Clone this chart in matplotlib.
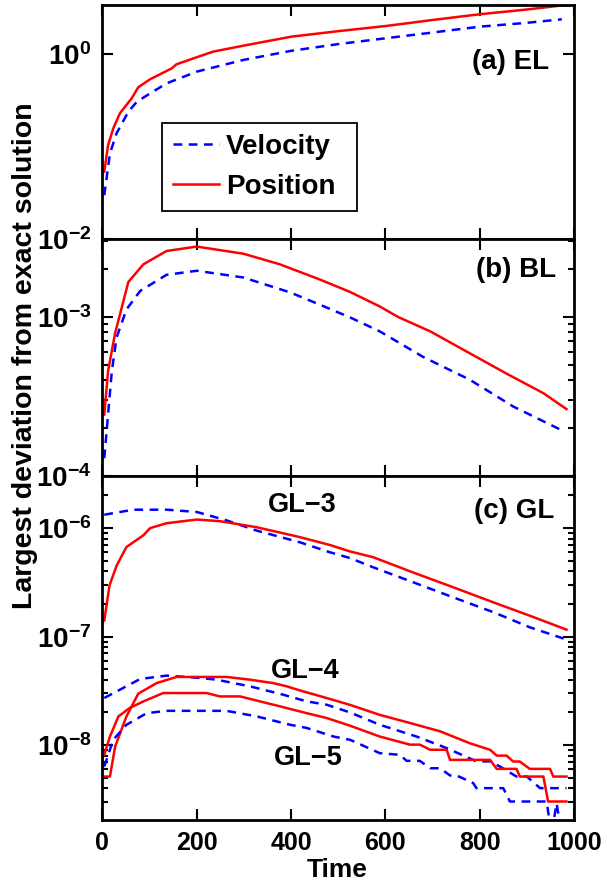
import matplotlib
matplotlib.use('Agg')
import matplotlib.pyplot as plt
from matplotlib.ticker import LogLocator, NullLocator, NullFormatter

plt.rcParams['font.family'] = ['Liberation Sans', 'DejaVu Sans']
plt.rcParams['font.weight'] = 'bold'
plt.rcParams['mathtext.fontset'] = 'custom'
plt.rcParams['mathtext.rm'] = 'Liberation Sans:bold'
plt.rcParams['mathtext.bf'] = 'Liberation Sans:bold'
plt.rcParams['mathtext.default'] = 'bf'

# (a) EL
t_el_pos = [4, 12, 23, 37, 62, 76, 101, 147, 157, 200, 235, 299, 400, 500, 600, 700, 800, 900, 984]
el_pos = [0.054, 0.104, 0.158, 0.23, 0.334, 0.44, 0.537, 0.705, 0.78, 0.93, 1.07, 1.24, 1.55,
          1.78, 2.02, 2.35, 2.71, 3.05, 3.42]
t_el_vel = [4, 16, 30, 55, 73, 101, 136, 200, 299, 400, 500, 600, 700, 800, 900, 974]
el_vel = [0.030, 0.085, 0.14, 0.24, 0.307, 0.378, 0.485, 0.65, 0.87, 1.09, 1.29, 1.49, 1.72,
          1.99, 2.19, 2.39]

# (b) BL
t_bl_pos = [4, 12, 27, 55, 87, 136, 200, 299, 376, 461, 525, 588, 627, 695, 779, 857, 935, 984]
bl_pos = [2.44e-4, 4.56e-4, 7.9e-4, 1.65e-3, 2.13e-3, 2.58e-3, 2.75e-3, 2.48e-3, 2.13e-3,
          1.71e-3, 1.43e-3, 1.16e-3, 9.96e-4, 8.1e-4, 5.9e-4, 4.4e-4, 3.32e-4, 2.64e-4]
t_bl_vel = [4, 12, 20, 30, 51, 80, 136, 200, 299, 398, 461, 525, 588, 680, 779, 871, 970]
bl_vel = [1.30e-4, 2.44e-4, 4.56e-4, 7.4e-4, 1.11e-3, 1.45e-3, 1.83e-3, 1.94e-3, 1.76e-3,
          1.42e-3, 1.19e-3, 9.9e-4, 8.1e-4, 5.6e-4, 4.03e-4, 2.74e-4, 1.97e-4]

# (c) GL-3
t_gl3_pos = [4, 15, 30, 51, 87, 101, 136, 200, 249, 327, 419, 482, 525, 574, 659, 744, 829, 906, 984]
gl3_pos = [1.41e-7, 2.96e-7, 4.5e-7, 6.7e-7, 8.6e-7, 1.0e-6, 1.11e-6, 1.2e-6, 1.16e-6, 1.02e-6,
           8.26e-7, 7.0e-7, 6.1e-7, 5.4e-7, 3.9e-7, 2.85e-7, 2.07e-7, 1.56e-7, 1.16e-7]
t_gl3_vel = [4, 66, 136, 200, 263, 327, 419, 482, 525, 574, 659, 744, 829, 906, 984]
gl3_vel = [1.33e-6, 1.48e-6, 1.48e-6, 1.41e-6, 1.18e-6, 9.5e-7, 7.4e-7, 6.0e-7, 5.3e-7, 4.36e-7,
           3.17e-7, 2.3e-7, 1.68e-7, 1.22e-7, 9.4e-8]

# (c) GL-4
t_gl4_pos = [4, 16, 27, 51, 76, 115, 157, 263, 313, 362, 391, 419, 475, 525, 588, 652, 716, 779,
             822, 836, 857, 871, 885, 906, 949, 956, 984]
gl4_pos = [5.13e-9, 5.13e-9, 9.7e-9, 1.84e-8, 2.98e-8, 3.73e-8, 4.25e-8, 4.25e-8, 4.01e-8, 3.73e-8,
           3.48e-8, 3.19e-8, 2.72e-8, 2.35e-8, 1.9e-8, 1.6e-8, 1.34e-8, 1.04e-8, 9.05e-9, 8.0e-9,
           8.0e-9, 7.06e-9, 7.06e-9, 6.04e-9, 6.04e-9, 5.13e-9, 5.13e-9]
t_gl4_vel = [4, 37, 80, 136, 207, 242, 313, 384, 433, 475, 525, 588, 666, 730, 793, 822, 843, 878,
             900, 928, 984]
gl4_vel = [2.72e-8, 3.24e-8, 4.07e-8, 4.37e-8, 4.16e-8, 4.01e-8, 3.48e-8, 2.91e-8, 2.53e-8, 2.36e-8,
           2.0e-8, 1.54e-8, 1.2e-8, 9.38e-9, 7.08e-9, 7.08e-9, 6.34e-9, 5.13e-9, 5.13e-9, 4.01e-9,
           4.01e-9]

# (c) GL-5
t_gl5_pos = [4, 16, 34, 58, 87, 129, 221, 249, 292, 334, 376, 433, 475, 525, 588, 652, 673, 695,
             730, 737, 822, 836, 878, 885, 935, 945, 984]
gl5_pos = [8.13e-9, 1.2e-8, 1.84e-8, 2.2e-8, 2.53e-8, 3.02e-8, 3.02e-8, 2.81e-8, 2.81e-8, 2.53e-8,
           2.28e-8, 1.97e-8, 1.78e-8, 1.51e-8, 1.2e-8, 1.01e-8, 1.01e-8, 9.06e-9, 9.06e-9, 7.31e-9,
           7.31e-9, 6.04e-9, 6.04e-9, 5.13e-9, 5.13e-9, 3.02e-9, 3.02e-9]
t_gl5_vel = [4, 23, 51, 94, 136, 263, 327, 398, 433, 490, 525, 588, 631, 645, 673, 695, 716, 737,
             751, 786, 793, 850, 864, 942, 952, 963, 974, 984]
gl5_vel = [6.34e-9, 1.12e-8, 1.54e-8, 1.97e-8, 2.07e-8, 2.07e-8, 1.84e-8, 1.54e-8, 1.44e-8, 1.2e-8,
           1.12e-8, 8.43e-9, 8.13e-9, 7.16e-9, 7.16e-9, 6.12e-9, 6.12e-9, 5.25e-9, 5.25e-9, 4.47e-9,
           4.01e-9, 4.01e-9, 3.02e-9, 3.02e-9, 1.5e-9, 2.9e-9, 1.5e-9, 1.5e-9]

lw = 1.8
dash = (3.5, 2.6)
vel_style = dict(color='#0000ff', ls='--', lw=lw, dashes=dash)
pos_style = dict(color='#ff0000', ls='-', lw=lw)

fig = plt.figure(figsize=(6.07, 8.82), dpi=100)
gs = fig.add_gridspec(3, 1, height_ratios=[234.3, 236.6, 343], hspace=0,
                      left=0.1687, right=0.9457, top=0.9947, bottom=0.0703)
ax1 = fig.add_subplot(gs[0])
ax2 = fig.add_subplot(gs[1])
ax3 = fig.add_subplot(gs[2])

for ax in (ax1, ax2, ax3):
    ax.set_yscale('log')
    ax.set_xlim(0, 1000)
    ax.set_xticks(range(0, 1001, 200))
    ax.tick_params(which='both', direction='in', top=True, right=True, width=1.5)
    ax.tick_params(which='major', length=8, labelsize=20, pad=8)
    ax.tick_params(which='minor', length=4)
    ax.tick_params(axis='x', labelsize=18)
    for s in ax.spines.values():
        s.set_linewidth(2)

# panel (a)
lv, = ax1.plot(t_el_vel, el_vel, label='Velocity', **vel_style)
lp, = ax1.plot(t_el_pos, el_pos, label='Position', **pos_style)
ax1.set_ylim(1e-2, 3.44)
ax1.set_yticks([1e-2, 1e0])
ax1.yaxis.set_minor_locator(NullLocator())
ax1.tick_params(axis='x', labelbottom=False)
ax1.text(947, 0.826, '(a) EL', ha='right', va='center', fontsize=20, fontweight='bold')
leg = ax1.legend(handles=[lv, lp], loc='upper left', bbox_to_anchor=(0.126, 0.124, 0.414, 0.372),
                 mode='expand', borderaxespad=0, fontsize=20, fancybox=False, framealpha=1,
                 edgecolor='black', handlelength=1.65, handletextpad=0.25,
                 borderpad=0.4, labelspacing=0.5)
leg.get_frame().set_linewidth(1.3)

# panel (b)
ax2.plot(t_bl_vel, bl_vel, **vel_style)
ax2.plot(t_bl_pos, bl_pos, **pos_style)
ax2.set_ylim(1e-4, 3.05e-3)
ax2.yaxis.set_minor_locator(LogLocator(base=10, subs=range(2, 10)))
ax2.yaxis.set_minor_formatter(NullFormatter())
ax2.tick_params(axis='x', labelbottom=False)
ax2.text(963, 1.97e-3, '(b) BL', ha='right', va='center', fontsize=20, fontweight='bold')

# panel (c)
ax3.plot(t_gl3_vel, gl3_vel, **vel_style)
ax3.plot(t_gl3_pos, gl3_pos, **pos_style)
ax3.plot(t_gl4_vel, gl4_vel, **vel_style)
ax3.plot(t_gl4_pos, gl4_pos, **pos_style)
ax3.plot(t_gl5_vel, gl5_vel, **vel_style)
ax3.plot(t_gl5_pos, gl5_pos, **pos_style)
ax3.set_ylim(2.04e-9, 3.0e-6)
ax3.yaxis.set_minor_locator(LogLocator(base=10, subs=range(2, 10)))
ax3.yaxis.set_minor_formatter(NullFormatter())
ax3.text(958, 1.44e-6, '(c) GL', ha='right', va='center', fontsize=20, fontweight='bold')
ax3.text(423, 1.62e-6, 'GL\u22123', ha='center', va='center', fontsize=19.5, fontweight='bold')
ax3.text(430, 4.78e-8, 'GL\u22124', ha='center', va='center', fontsize=19.5, fontweight='bold')
ax3.text(436, 7.6e-9, 'GL\u22125', ha='center', va='center', fontsize=19.5, fontweight='bold')

fig.text(0.556, 0.0136, 'Time', ha='center', va='center', fontsize=19, fontweight='bold')
fig.text(0.041, 0.597, 'Largest deviation from exact solution', rotation=90,
         ha='center', va='center', fontsize=20.5, fontweight='bold')

fig.savefig('out.png', dpi=100)
